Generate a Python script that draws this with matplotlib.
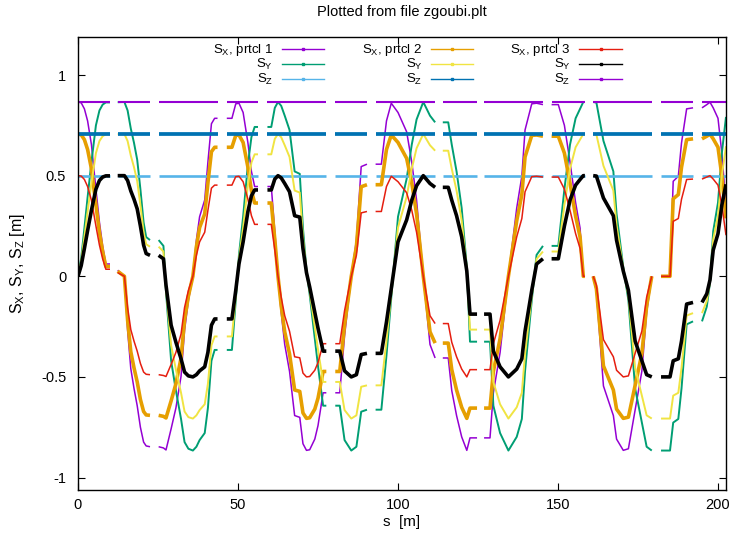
# %%
import numpy as np
import matplotlib
matplotlib.use("Agg")
import matplotlib.pyplot as plt

plt.rcParams['font.family'] = ['Liberation Sans', 'DejaVu Sans']
plt.rcParams['mathtext.default'] = 'regular'

# Spin components read off zgoubi.plt (s in m). Tracking is written per element,
# so the curves break at the start of every segment.
seg_start = [0.0, 12.4, 25.2, 46.5, 59.2, 80.4, 93.0, 114.0, 126.9, 148.0, 161.0, 182.2, 195.0]

s = [0.0, 1.0, 2.0, 3.0, 4.2, 5.6, 6.7, 7.7, 8.7, 10.0,
     12.4, 14.5, 15.5, 16.5, 17.5, 18.5, 19.5, 20.5, 21.3, 22.5,
     25.2, 26.7, 27.5, 29.1, 30.6, 32.2, 33.3, 34.5, 35.9, 37.0, 38.0, 39.6, 40.6, 41.7, 42.7, 43.6,
     46.5, 48.1, 49.3, 50.3, 51.6, 53.1, 54.2, 55.2, 56.25,
     59.2, 60.4, 61.5, 62.5, 63.5, 64.6, 66.1, 67.7, 69.3, 70.3, 71.4, 72.4, 74.0, 75.0, 76.6, 77.6,
     80.4, 81.8, 83.3, 85.4, 87.0, 88.5, 90.3,
     93.0, 94.8, 96.4, 97.9, 100.0, 102.7, 104.3, 105.8, 107.9, 110.0, 111.6,
     114.0, 115.7, 116.8, 118.3, 119.9, 121.5, 122.5, 124.7,
     126.9, 128.75, 129.8, 131.9, 134.5, 137.1, 138.7, 139.7, 141.8, 143.3, 145.3,
     148.0, 150.1, 152.0, 153.75, 155.5, 156.9, 157.9, 158.4,
     161.0, 162.0, 164.2, 167.3, 168.3, 170.4, 172.0, 174.1, 176.2, 177.7, 179.3,
     182.2, 185.0, 186.0, 187.6, 188.6, 190.2, 192.2,
     195.0, 196.5, 197.5, 198.5, 200.0, 201.2, 202.5]

sx1 = [.866, .862, .832, .772, .654, .433, .268, .151, .061, .061,
       .030, 0, -.268, -.459, -.557, -.643, -.750, -.824, -.843, -.847,
       -.847, -.853, -.863, -.758, -.654, -.497, -.268, -.120, 0, .180, .296, .379, .568, .758, .785, .785,
       .785, .785, .857, .860, .814, .663, .521, .446, .446,
       .446, .446, .224, 0, -.180, -.339, -.472, -.692, -.701, -.832, -.865, -.862, -.809, -.742, -.579, -.579,
       -.579, -.579, -.296, 0, .180, .545, .557,
       .557, .557, .772, .860, .814, .718, .568, .379, 0, -.339, -.406,
       -.406, -.406, -.568, -.692, -.798, -.865, -.803, -.803,
       -.803, -.803, -.579, -.379, 0, .339, .497, .727, .857, .860, .853,
       .853, .853, .750, .568, .366, .239, 0, 0,
       0, -.075, -.545, -.692, -.809, -.865, -.857, -.663, -.472, -.180, 0,
       0, 0, .472, .497, .663, .832, .837,
       .837, .853, .865, .837, .785, .612, .352]

sy1 = [0, .091, .239, .393, .568, .750, .824, .853, .864, .864,
       .865, .866, .824, .734, .663, .579, .433, .268, .195, .180,
       .180, .151, -.075, -.420, -.568, -.709, -.824, -.857, -.866, -.847, -.814, -.779, -.654, -.420, -.366, -.366,
       -.366, -.366, -.120, .106, .296, .557, .692, .742, .742,
       .742, .742, .837, .866, .847, .798, .727, .521, .509, .239, .030, -.091, -.310, -.446, -.643, -.643,
       -.643, -.643, -.814, -.866, -.847, -.673, -.663,
       -.663, -.663, -.393, -.106, .296, .484, .654, .779, .866, .798, .765,
       .765, .765, .654, .521, .339, .045, -.325, -.325,
       -.325, -.325, -.643, -.779, -.866, -.798, -.709, -.472, -.120, .106, .151,
       .151, .151, .433, .654, .785, .832, .866, .866,
       .866, .863, .673, .521, .310, .045, -.120, -.557, -.727, -.847, -.866,
       -.866, -.866, -.727, -.709, -.557, -.239, -.224,
       -.224, -.151, -.030, .224, .366, .612, .792]

sx2 = [.707, .703, .679, .630, .534, .354, .218, .123, .049, .049,
       .025, 0, -.218, -.375, -.455, -.525, -.612, -.672, -.689, -.691,
       -.691, -.696, -.704, -.619, -.534, -.406, -.218, -.098, 0, .147, .242, .310, .464, .619, .641, .641,
       .641, .641, .700, .702, .665, .542, .426, .364, .364,
       .364, .364, .183, 0, -.147, -.276, -.385, -.565, -.572, -.679, -.706, -.703, -.660, -.606, -.473, -.473,
       -.473, -.473, -.242, 0, .147, .445, .455,
       .455, .455, .630, .702, .665, .586, .464, .310, 0, -.276, -.332,
       -.332, -.332, -.464, -.565, -.651, -.706, -.655, -.655,
       -.655, -.655, -.473, -.310, 0, .276, .406, .593, .700, .702, .696,
       .696, .696, .612, .464, .299, .195, 0, 0,
       0, -.062, -.445, -.565, -.660, -.706, -.700, -.542, -.385, -.147, 0,
       0, 0, .385, .406, .542, .679, .683,
       .683, .696, .706, .683, .641, .5, .288]

sy2 = [0, .074, .195, .321, .464, .612, .672, .696, .706, .706,
       .706, .707, .672, .600, .542, .473, .354, .218, .159, .147,
       .147, .123, -.062, -.343, -.464, -.579, -.672, -.700, -.707, -.691, -.665, -.636, -.534, -.343, -.299, -.299,
       -.299, -.299, -.098, .086, .242, .455, .565, .606, .606,
       .606, .606, .683, .707, .691, .651, .593, .426, .416, .195, .025, -.074, -.253, -.364, -.525, -.525,
       -.525, -.525, -.665, -.707, -.691, -.549, -.542,
       -.542, -.542, -.321, -.086, .242, .395, .534, .636, .707, .651, .624,
       .624, .624, .534, .426, .276, .037, -.265, -.265,
       -.265, -.265, -.525, -.636, -.707, -.651, -.579, -.385, -.098, .086, .123,
       .123, .123, .354, .534, .641, .679, .707, .707,
       .707, .704, .549, .426, .253, .037, -.098, -.455, -.593, -.691, -.707,
       -.707, -.707, -.593, -.579, -.455, -.195, -.183,
       -.183, -.123, -.025, .183, .299, .5, .646]

sx3 = [.5, .498, .481, .446, .378, .25, .155, .087, .035, .035,
       .018, 0, -.155, -.265, -.322, -.372, -.433, -.476, -.487, -.489,
       -.489, -.493, -.498, -.438, -.378, -.287, -.155, -.070, 0, .104, .171, .219, .328, .438, .453, .453,
       .453, .453, .495, .497, .470, .383, .301, .258, .258,
       .258, .258, .130, 0, -.104, -.196, -.273, -.400, -.405, -.481, -.5, -.498, -.467, -.429, -.335, -.335,
       -.335, -.335, -.171, 0, .104, .315, .322,
       .322, .322, .446, .497, .470, .415, .328, .219, 0, -.196, -.235,
       -.235, -.235, -.328, -.400, -.461, -.5, -.464, -.464,
       -.464, -.464, -.335, -.219, 0, .196, .287, .420, .495, .497, .493,
       .493, .493, .433, .328, .212, .138, 0, 0,
       0, -.044, -.315, -.400, -.467, -.5, -.495, -.383, -.273, -.104, 0,
       0, 0, .273, .287, .383, .481, .483,
       .483, .493, .5, .483, .453, .354, .204]

sy3 = [0, .053, .138, .227, .328, .433, .476, .493, .499, .499,
       .5, .5, .476, .424, .383, .335, .25, .155, .113, .104,
       .104, .087, -.044, -.243, -.328, -.410, -.476, -.495, -.5, -.489, -.470, -.450, -.378, -.243, -.212, -.212,
       -.212, -.212, -.070, .061, .171, .322, .400, .429, .429,
       .429, .429, .483, .5, .489, .461, .420, .301, .294, .138, .018, -.053, -.179, -.258, -.372, -.372,
       -.372, -.372, -.470, -.5, -.489, -.389, -.383,
       -.383, -.383, -.227, -.061, .171, .280, .378, .450, .5, .461, .442,
       .442, .442, .378, .301, .196, .026, -.188, -.188,
       -.188, -.188, -.372, -.450, -.5, -.461, -.410, -.273, -.070, .061, .087,
       .087, .087, .25, .378, .453, .481, .5, .5,
       .5, .498, .389, .301, .179, .026, -.070, -.322, -.420, -.489, -.5,
       -.5, -.5, -.420, -.410, -.322, -.138, -.130,
       -.130, -.087, -.018, .130, .212, .354, .457]

sz1, sz2, sz3 = 0.5, 0.707, 0.866


def broken(y):
    # put a NaN in front of each new segment so the line is not joined
    out = []
    for si, yi in zip(s, y):
        if si in seg_start[1:]:
            out.append(np.nan)
        out.append(yi)
    return out


x = broken(s)

series = [
    (sx1, '#9400d3', 1.1, 'S$_X$, prtcl 1'),
    (sy1, '#009e73', 1.4, 'S$_Y$'),
    ([sz1] * len(s), '#56b4e9', 1.9, 'S$_Z$'),
    (sx2, '#e69f00', 2.6, 'S$_X$, prtcl 2'),
    (sy2, '#f0e442', 1.4, 'S$_Y$'),
    ([sz2] * len(s), '#0072b2', 2.7, 'S$_Z$'),
    (sx3, '#e51e10', 1.1, 'S$_X$, prtcl 3'),
    (sy3, 'black', 2.6, 'S$_Y$'),
    ([sz3] * len(s), '#9400d3', 1.5, 'S$_Z$'),
]

fig = plt.figure(figsize=(7.4, 5.33), dpi=100)
ax = fig.add_axes([78 / 740, 43 / 533, 648 / 740, 453 / 533])

for y, col, lw, lab in series:
    ax.plot(x, broken(y), color=col, lw=lw, solid_capstyle='butt')

ax.set_xlim(0, 202.5)
ax.set_ylim(-1.062, 1.189)
ax.set_xticks([0, 50, 100, 150, 200])
ax.set_yticks([-1, -0.5, 0, 0.5, 1], labels=['-1', '-0.5', '0', '0.5', '1'])
ax.tick_params(direction='in', top=True, right=True, length=5, labelsize=10.5)
ax.tick_params(axis='x', pad=6)
ax.tick_params(axis='y', pad=8.5)
for sp in ax.spines.values():
    sp.set_linewidth(1.0)

ax.set_title('Plotted from file zgoubi.plt', fontsize=10.5, pad=15)
ax.set_xlabel('s  [m]', fontsize=11, labelpad=2)
ax.set_ylabel('S$_X$, S$_Y$, S$_Z$ [m]', fontsize=11.5, labelpad=10)

# gnuplot style key: right-justified text, short sample line, three columns
text_right = [273, 422.5, 570.5]
line_from = [282, 431, 579]
line_to = [324, 473, 622]
rows = [49, 64, 79]
for c in range(3):
    for r in range(3):
        _, col, _, lab = series[3 * c + r]
        yf = (490 - rows[r]) / 453
        x0 = (line_from[c] - 78) / 648
        x1 = (line_to[c] - 78) / 648
        ax.plot([x0, x1], [yf, yf], transform=ax.transAxes, color=col, lw=1.0, clip_on=False)
        ax.plot([(x0 + x1) / 2], [yf], transform=ax.transAxes, color=col, marker='s', ms=1.6,
                clip_on=False)
        ax.text((text_right[c] - 78) / 648, (490 - rows[r] - 3.5) / 453, lab, ha='right',
                va='baseline', transform=ax.transAxes, fontsize=9.5)

fig.savefig('out.png', dpi=100)
